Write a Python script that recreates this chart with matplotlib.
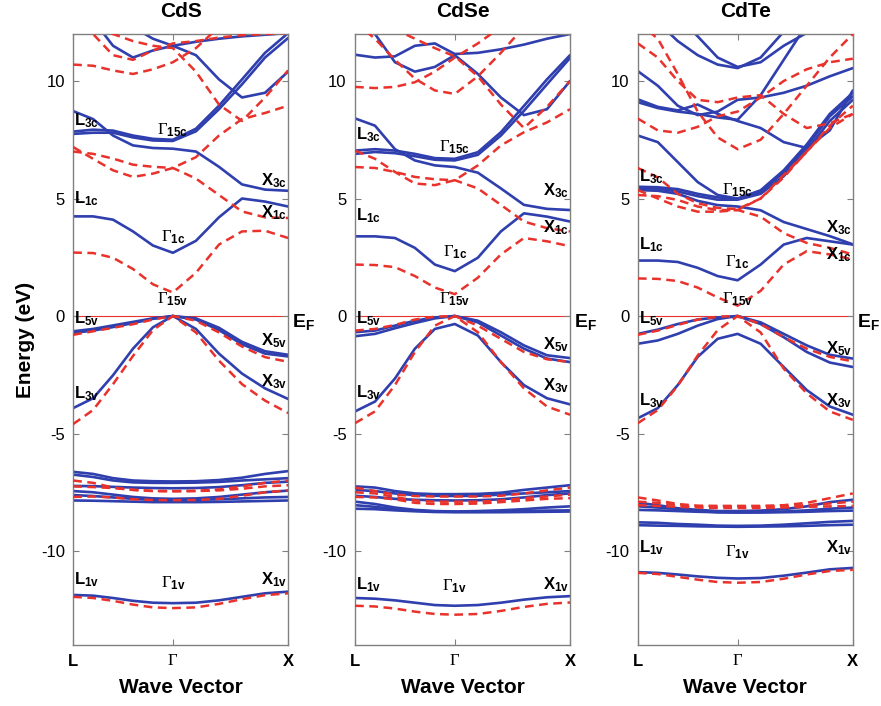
import matplotlib.pyplot as plt
import numpy as np
from matplotlib import font_manager
from matplotlib.transforms import blended_transform_factory

# pick a Helvetica-like font (narrow if available)
names = {f.name for f in font_manager.fontManager.ttflist}
base_font = 'Liberation Sans Narrow' if 'Liberation Sans Narrow' in names else 'Liberation Sans'
plt.rcParams['font.family'] = [base_font, 'DejaVu Sans']
plt.rcParams['mathtext.fontset'] = 'custom'
plt.rcParams['mathtext.rm'] = 'Liberation Serif'
plt.rcParams['mathtext.bf'] = base_font + ':bold'
plt.rcParams['mathtext.it'] = base_font + ':italic'
plt.rcParams['axes.unicode_minus'] = False

# k-path L -> Gamma -> X, 5 steps on each leg (|LG| : |GX| = sqrt(3)/2 : 1)
k_frac = np.array([0.0, 0.2, 0.4, 0.6, 0.8, 1.0])
len_LG = np.sqrt(3) / 2
k = np.concatenate([len_LG * k_frac, len_LG + k_frac[1:]])
k_ticks = [0.0, len_LG, len_LG + 1.0]
k_ticklabels = [r'$\mathbf{L}$', r'$\Gamma$', r'$\mathbf{X}$']

materials = ['CdS', 'CdSe', 'CdTe']

# ---------------- CdS ----------------
cds_blue = [
    [-11.87, -11.90, -12.00, -12.12, -12.20, -12.22, -12.20, -12.10, -11.95, -11.80, -11.73],
    [-6.63, -6.72, -6.90, -7.00, -7.03, -7.04, -7.03, -6.98, -6.88, -6.72, -6.60],
    [-6.75, -6.85, -7.00, -7.08, -7.10, -7.10, -7.09, -7.06, -7.00, -6.95, -6.90],
    [-7.23, -7.24, -7.27, -7.30, -7.32, -7.33, -7.32, -7.28, -7.20, -7.10, -7.05],
    [-7.45, -7.50, -7.60, -7.70, -7.76, -7.78, -7.76, -7.70, -7.60, -7.50, -7.43],
    [-7.62, -7.66, -7.72, -7.78, -7.82, -7.83, -7.82, -7.80, -7.76, -7.72, -7.70],
    [-7.85, -7.86, -7.88, -7.90, -7.92, -7.92, -7.92, -7.91, -7.89, -7.87, -7.85],
    [-3.92, -3.50, -2.52, -1.39, -0.48, 0.00, -0.55, -1.60, -2.45, -3.08, -3.53],
    [-0.65, -0.55, -0.40, -0.25, -0.10, 0.00, -0.10, -0.50, -1.10, -1.50, -1.65],
    [-0.72, -0.62, -0.47, -0.30, -0.12, 0.00, -0.15, -0.60, -1.20, -1.60, -1.72],
    [4.24, 4.24, 4.10, 3.60, 3.00, 2.69, 3.20, 4.20, 5.00, 4.87, 4.66],
    [8.72, 8.38, 7.68, 7.26, 7.15, 7.12, 7.00, 6.35, 5.60, 5.38, 5.33],
    [7.85, 7.93, 7.89, 7.68, 7.54, 7.50, 7.97, 8.95, 10.07, 11.20, 12.04],
    [7.75, 7.80, 7.80, 7.60, 7.47, 7.45, 7.86, 8.80, 9.86, 11.00, 11.83],
    [13.00, 12.60, 11.50, 11.00, 11.30, 11.50, 11.10, 10.07, 9.30, 9.50, 10.40],
    [13.50, 13.20, 12.80, 12.30, 11.80, 11.50, 11.67, 11.80, 11.90, 11.97, 12.04],
]
cds_red = [
    [-11.95, -12.00, -12.12, -12.28, -12.40, -12.43, -12.40, -12.25, -12.05, -11.88, -11.80],
    [-7.00, -7.10, -7.30, -7.40, -7.44, -7.45, -7.44, -7.38, -7.25, -7.10, -7.00],
    [-7.25, -7.28, -7.32, -7.40, -7.45, -7.46, -7.45, -7.42, -7.35, -7.25, -7.20],
    [-7.70, -7.68, -7.72, -7.80, -7.83, -7.84, -7.83, -7.78, -7.65, -7.50, -7.42],
    [-4.60, -4.00, -2.90, -1.70, -0.60, 0.00, -0.70, -1.90, -2.90, -3.60, -4.13],
    [-0.80, -0.65, -0.50, -0.35, -0.15, 0.00, -0.20, -0.70, -1.30, -1.75, -1.95],
    [2.70, 2.68, 2.48, 2.00, 1.35, 1.00, 1.84, 3.04, 3.60, 3.63, 3.32],
    [7.00, 6.90, 6.70, 6.44, 6.35, 6.30, 5.85, 5.15, 4.45, 4.20, 4.17],
    [7.19, 6.69, 6.20, 5.92, 6.06, 6.30, 6.76, 7.68, 8.38, 8.64, 8.95],
    [12.80, 12.30, 12.00, 11.70, 11.50, 11.40, 10.40, 9.00, 8.30, 9.30, 10.45],
    [10.70, 10.65, 10.45, 10.30, 10.50, 10.80, 11.40, 12.30, 13.00, 13.50, 14.00],
    [12.80, 12.00, 11.10, 10.90, 11.30, 11.60, 11.70, 11.85, 11.95, 12.00, 12.05],
]

# ---------------- CdSe ----------------
cdse_blue = [
    [-12.00, -12.03, -12.10, -12.20, -12.30, -12.33, -12.30, -12.20, -12.07, -11.97, -11.92],
    [-7.25, -7.30, -7.45, -7.55, -7.58, -7.58, -7.57, -7.52, -7.40, -7.30, -7.20],
    [-7.40, -7.45, -7.55, -7.62, -7.65, -7.66, -7.65, -7.60, -7.55, -7.50, -7.45],
    [-7.65, -7.70, -7.78, -7.82, -7.84, -7.85, -7.84, -7.80, -7.72, -7.62, -7.55],
    [-7.90, -8.00, -8.15, -8.25, -8.30, -8.32, -8.30, -8.27, -8.22, -8.15, -8.10],
    [-8.05, -8.12, -8.22, -8.28, -8.32, -8.33, -8.33, -8.32, -8.30, -8.28, -8.27],
    [-8.20, -8.22, -8.27, -8.31, -8.34, -8.35, -8.35, -8.35, -8.34, -8.33, -8.32],
    [-4.06, -3.64, -2.66, -1.39, -0.55, -0.34, -0.83, -1.96, -2.94, -3.50, -3.76],
    [-0.69, -0.62, -0.41, -0.20, -0.06, 0.00, -0.20, -0.69, -1.25, -1.67, -1.79],
    [-0.86, -0.76, -0.52, -0.30, -0.10, 0.00, -0.27, -0.83, -1.39, -1.81, -1.96],
    [3.39, 3.39, 3.32, 2.90, 2.19, 1.91, 2.48, 3.60, 4.37, 4.23, 4.02],
    [8.41, 8.10, 7.10, 6.62, 6.41, 6.34, 6.10, 5.43, 4.73, 4.56, 4.51],
    [7.04, 7.10, 7.04, 6.90, 6.72, 6.69, 6.97, 7.82, 8.94, 10.07, 11.10],
    [6.90, 6.98, 6.93, 6.80, 6.65, 6.62, 6.86, 7.68, 8.73, 9.86, 10.98],
    [11.12, 11.00, 11.05, 11.50, 11.60, 11.15, 11.20, 11.35, 11.55, 11.80, 12.00],
    [12.60, 12.00, 10.80, 10.40, 10.60, 11.10, 10.30, 9.30, 8.55, 8.80, 10.00],
]
cdse_red = [
    [-12.33, -12.36, -12.45, -12.58, -12.68, -12.71, -12.68, -12.55, -12.38, -12.25, -12.19],
    [-7.30, -7.45, -7.60, -7.66, -7.68, -7.68, -7.68, -7.65, -7.55, -7.42, -7.30],
    [-7.50, -7.55, -7.70, -7.85, -7.90, -7.90, -7.90, -7.85, -7.75, -7.68, -7.60],
    [-7.70, -7.72, -7.80, -7.95, -8.00, -8.00, -7.98, -7.92, -7.85, -7.78, -7.75],
    [-4.56, -4.06, -2.94, -1.53, -0.41, 0.00, -0.69, -1.96, -3.08, -3.85, -4.20],
    [-0.62, -0.55, -0.38, -0.15, -0.03, 0.00, -0.41, -0.97, -1.53, -1.84, -1.96],
    [2.19, 2.17, 2.08, 1.70, 1.21, 0.93, 1.63, 2.62, 3.32, 3.18, 2.97],
    [6.34, 6.30, 6.13, 5.92, 5.82, 5.78, 5.43, 4.73, 4.02, 3.74, 3.60],
    [7.04, 6.69, 6.13, 5.64, 5.57, 5.78, 6.41, 7.26, 7.82, 8.24, 8.80],
    [13.00, 12.60, 12.20, 11.80, 11.40, 11.05, 10.20, 9.00, 8.00, 8.90, 10.00],
    [9.75, 9.70, 9.75, 9.95, 10.40, 11.00, 11.60, 12.30, 13.00, 13.50, 14.00],
    [12.50, 11.80, 10.90, 10.10, 9.60, 9.45, 10.20, 11.20, 12.30, 13.00, 13.50],
]

# ---------------- CdTe ----------------
cdte_blue = [
    [-10.90, -10.93, -11.00, -11.08, -11.14, -11.17, -11.15, -11.05, -10.92, -10.78, -10.72],
    [-7.95, -8.05, -8.18, -8.25, -8.30, -8.30, -8.28, -8.22, -8.10, -7.92, -7.82],
    [-8.10, -8.15, -8.22, -8.30, -8.35, -8.36, -8.35, -8.32, -8.27, -8.20, -8.15],
    [-8.25, -8.27, -8.30, -8.33, -8.35, -8.36, -8.36, -8.35, -8.33, -8.30, -8.28],
    [-8.78, -8.80, -8.85, -8.88, -8.92, -8.93, -8.92, -8.88, -8.82, -8.76, -8.72],
    [-8.90, -8.92, -8.93, -8.95, -8.96, -8.97, -8.96, -8.95, -8.93, -8.90, -8.88],
    [-4.35, -3.92, -2.94, -1.74, -0.97, -0.76, -1.18, -2.17, -3.15, -3.85, -4.20],
    [-0.76, -0.58, -0.34, -0.15, -0.06, 0.00, -0.27, -0.76, -1.25, -1.65, -1.81],
    [-1.18, -1.04, -0.76, -0.41, -0.13, 0.00, -0.34, -0.90, -1.53, -1.98, -2.17],
    [2.36, 2.36, 2.30, 2.05, 1.70, 1.52, 2.19, 3.04, 3.32, 3.18, 3.04],
    [7.68, 7.40, 6.55, 5.70, 5.15, 5.00, 5.35, 6.20, 7.30, 8.60, 9.50],
    [5.50, 5.48, 5.40, 5.20, 5.05, 4.98, 5.30, 6.10, 7.20, 8.50, 9.35],
    [5.43, 5.42, 5.30, 5.10, 4.95, 4.95, 5.20, 5.95, 7.05, 8.30, 9.20],
    [5.36, 5.33, 5.20, 4.90, 4.72, 4.66, 4.50, 4.00, 3.70, 3.40, 3.05],
    [10.42, 9.80, 8.95, 8.55, 8.70, 9.20, 9.30, 9.50, 9.80, 10.20, 10.55],
    [9.22, 8.90, 8.75, 9.00, 8.60, 8.30, 8.00, 7.40, 7.15, 7.90, 9.60],
    [9.10, 8.85, 8.70, 8.60, 8.45, 8.35, 9.40, 10.90, 12.40, 13.50, 14.00],
    [13.50, 12.50, 11.70, 11.10, 10.70, 10.55, 11.00, 12.10, 13.00, 13.60, 14.00],
    [14.00, 13.50, 12.80, 11.90, 11.00, 10.60, 10.80, 11.50, 12.05, 12.80, 13.50],
]
cdte_red = [
    [-10.93, -10.98, -11.10, -11.22, -11.32, -11.35, -11.32, -11.18, -11.00, -10.85, -10.80],
    [-7.72, -7.85, -8.00, -8.07, -8.08, -8.08, -8.08, -8.05, -7.95, -7.75, -7.55],
    [-7.90, -7.95, -8.05, -8.10, -8.10, -8.10, -8.10, -8.10, -8.05, -7.98, -7.90],
    [-8.05, -8.08, -8.12, -8.15, -8.17, -8.17, -8.17, -8.15, -8.12, -8.10, -8.08],
    [-4.56, -4.00, -2.97, -1.68, -0.60, 0.00, -0.70, -2.24, -3.29, -4.06, -4.42],
    [-0.80, -0.62, -0.38, -0.15, -0.03, 0.00, -0.34, -0.90, -1.39, -1.74, -1.93],
    [1.60, 1.58, 1.49, 1.21, 0.79, 0.44, 1.07, 2.19, 2.76, 2.62, 2.41],
    [5.15, 5.10, 4.94, 4.66, 4.51, 4.51, 4.23, 3.53, 3.11, 2.90, 2.62],
    [5.36, 5.00, 4.66, 4.44, 4.44, 4.51, 5.00, 6.00, 6.98, 8.10, 8.95],
    [6.30, 5.90, 5.20, 4.80, 4.60, 4.55, 5.00, 5.90, 7.00, 8.00, 8.60],
    [8.40, 7.90, 7.80, 8.05, 8.50, 8.70, 9.30, 10.00, 10.50, 10.80, 10.95],
    [12.50, 11.80, 10.30, 8.70, 7.60, 7.10, 7.50, 8.60, 9.80, 11.00, 12.00],
    [11.60, 11.00, 10.00, 9.20, 9.10, 9.30, 9.40, 8.60, 8.00, 8.20, 8.60],
]

# symmetry-point labels: (subscript, energy)
cds_L = [('3c', 8.3), ('1c', 5.0), ('5v', -0.1), ('3v', -3.3), ('1v', -11.2)]
cds_G = [('15c', 7.9), ('1c', 3.35), ('15v', 0.7), ('1v', -11.35)]
cds_X = [('3c', 5.75), ('1c', 4.4), ('5v', -1.05), ('3v', -2.8), ('1v', -11.2)]
cdse_L = [('3c', 7.7), ('1c', 4.25), ('5v', -0.1), ('3v', -3.25), ('1v', -11.45)]
cdse_G = [('15c', 7.2), ('1c', 2.7), ('15v', 0.7), ('1v', -11.5)]
cdse_X = [('3c', 5.35), ('1c', 3.75), ('5v', -1.2), ('3v', -2.95), ('1v', -11.45)]
cdte_L = [('3c', 5.95), ('1c', 3.05), ('5v', -0.1), ('3v', -3.6), ('1v', -9.85)]
cdte_G = [('15c', 5.35), ('1c', 2.3), ('15v', 0.7), ('1v', -10.05)]
cdte_X = [('3c', 3.75), ('1c', 2.6), ('5v', -1.4), ('3v', -3.6), ('1v', -9.85)]

panels = [
    (cds_blue, cds_red, cds_L, cds_G, cds_X),
    (cdse_blue, cdse_red, cdse_L, cdse_G, cdse_X),
    (cdte_blue, cdte_red, cdte_L, cdte_G, cdte_X),
]

blue = '#2f3fae'
red = '#e8322b'
spine_gray = '#808080'
lefts = [0.083, 0.403, 0.724]

fig = plt.figure(figsize=(8.81, 7.06), dpi=100)

for i, (name, (bl, rd, labL, labG, labX)) in enumerate(zip(materials, panels)):
    ax = fig.add_axes([lefts[i], 0.0864, 0.244, 0.8654])
    for band in bl:
        ax.plot(k, band, color=blue, lw=1.9, solid_capstyle='round',
                solid_joinstyle='round', zorder=2)
    for band in rd:
        ax.plot(k, band, color=red, lw=1.8, dashes=(3.5, 2.2), zorder=3)
    ax.axhline(0, color=red, lw=0.8, zorder=1)

    ax.set_xlim(k_ticks[0], k_ticks[-1])
    ax.set_ylim(-14, 12)
    ax.set_xticks(k_ticks)
    ax.set_xticklabels(k_ticklabels, fontsize=12)
    ax.set_yticks([-10, -5, 0, 5, 10])
    ax.tick_params(direction='in', top=True, right=True, length=4,
                   color=spine_gray, labelsize=12, pad=6)
    for s in ax.spines.values():
        s.set_color(spine_gray)
        s.set_linewidth(1.0)

    ax.set_title(name, fontsize=15, fontweight='bold', pad=12)
    ax.set_xlabel('Wave Vector', fontsize=15, fontweight='bold', labelpad=6)
    if i == 0:
        ax.set_ylabel('Energy (eV)', fontsize=15, fontweight='bold', labelpad=4)

    for sub, e in labL:
        ax.text(0.01, e, r'$\mathbf{L_{%s}}$' % sub, fontsize=12,
                ha='left', va='center', zorder=5)
    for sub, e in labG:
        ax.text(len_LG, e, r'$\Gamma_{\mathbf{%s}}$' % sub, fontsize=12,
                ha='center', va='center', zorder=5)
    for sub, e in labX:
        ax.text(k_ticks[-1] - 0.01, e, r'$\mathbf{X_{%s}}$' % sub, fontsize=12,
                ha='right', va='center', zorder=5)

    tr = blended_transform_factory(ax.transAxes, ax.transData)
    ax.text(1.02, -0.25, r'$\mathbf{E_F}$', transform=tr, fontsize=14,
            ha='left', va='center')

fig.savefig('out.png', dpi=100)
